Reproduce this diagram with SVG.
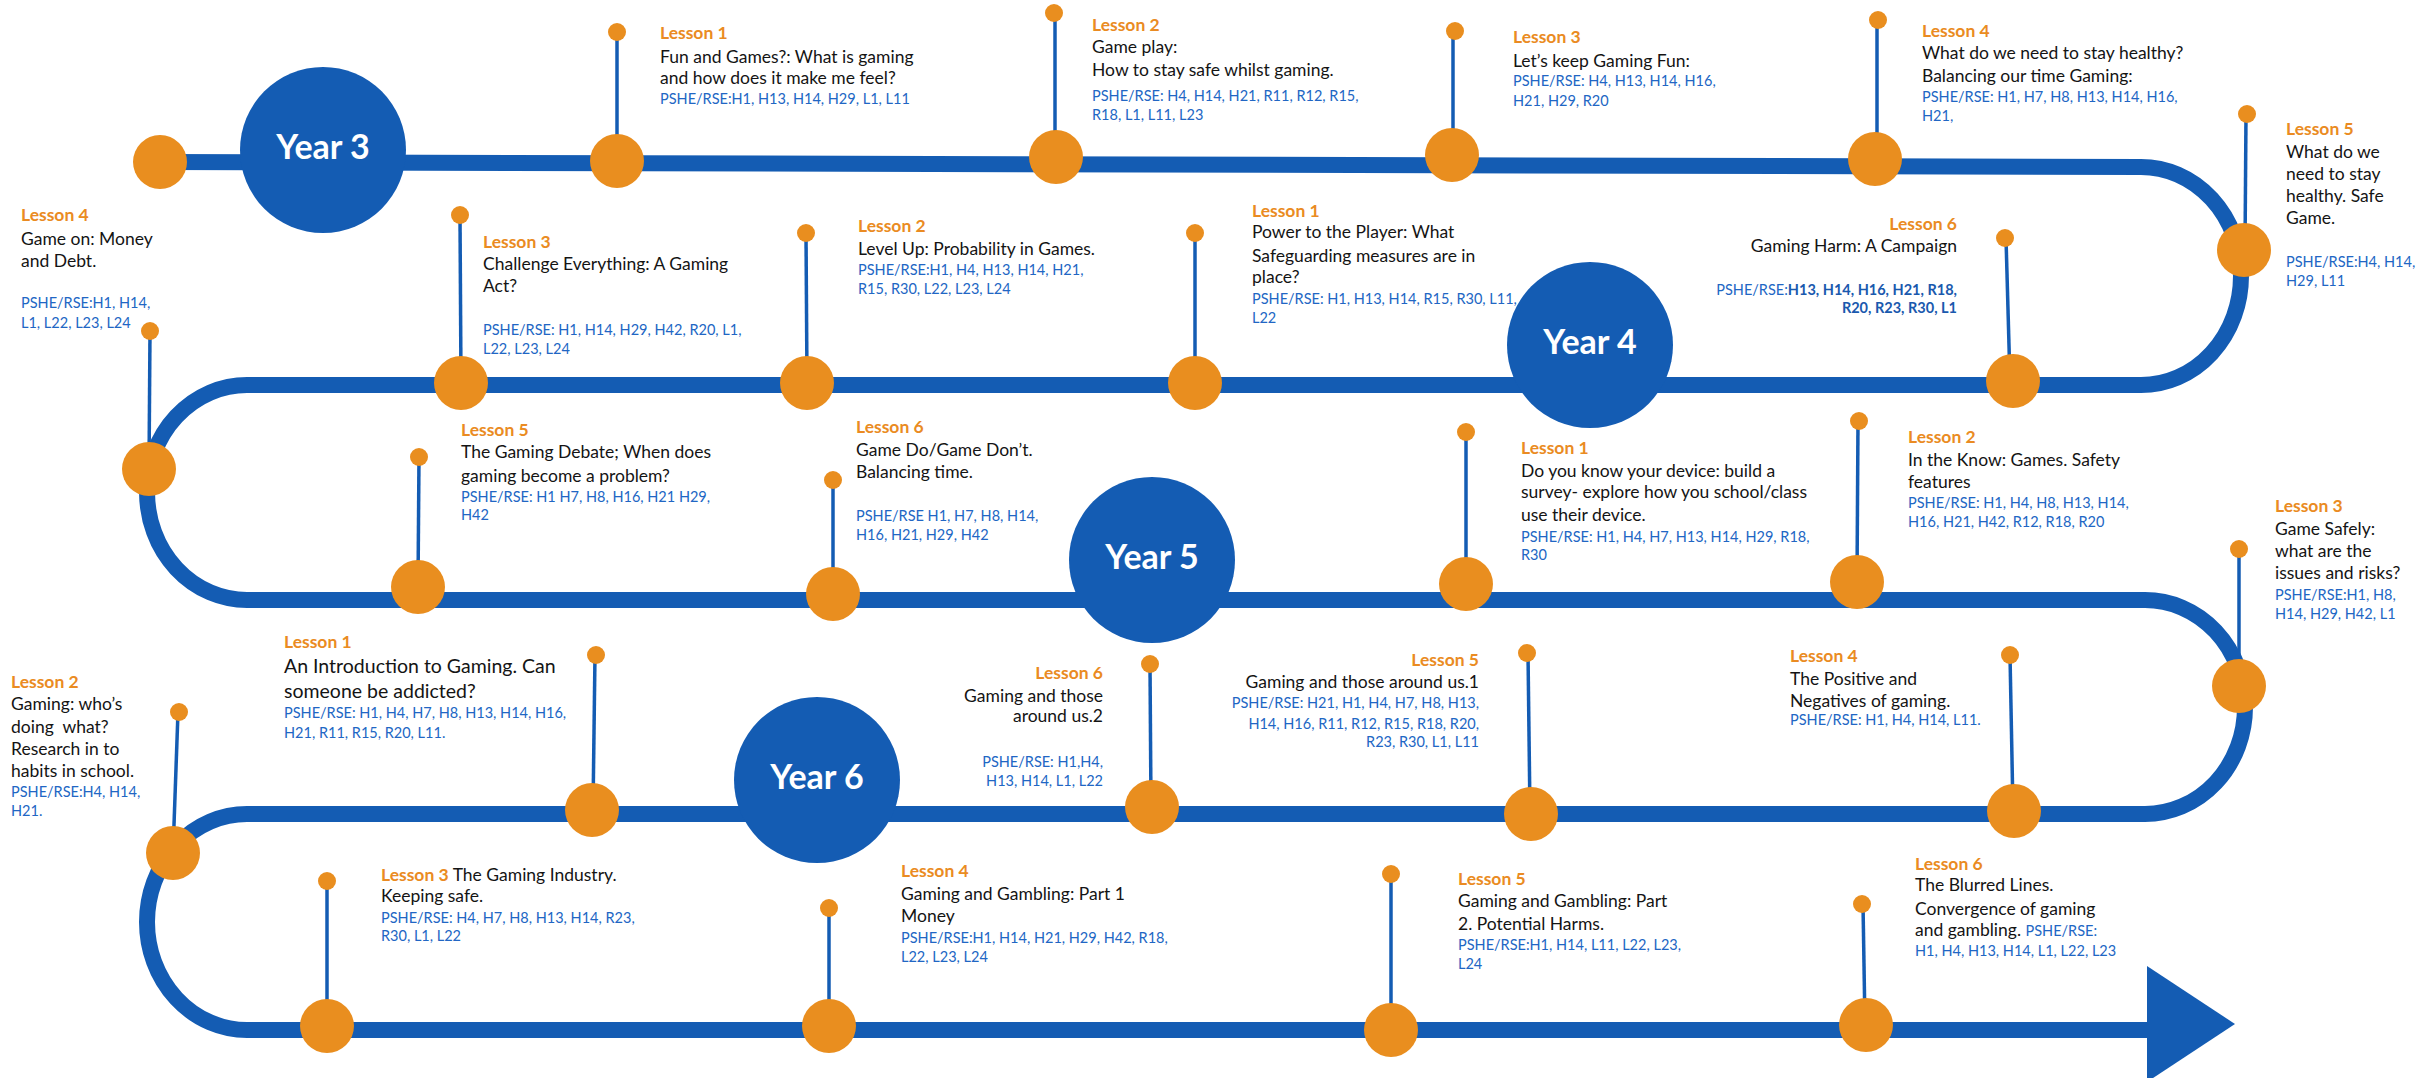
<svg xmlns="http://www.w3.org/2000/svg" width="2420" height="1078" viewBox="0 0 2420 1078">
<style>
text{font-family:Lato,"Liberation Sans",sans-serif;}
.les{font-size:17.5px;font-weight:bold;fill:#EA8B22;}
.bd{font-size:17.5px;fill:#141414;}
.bd2{font-size:19.5px;fill:#141414;}
.ps{font-size:14.5px;fill:#2166C4;}
.psb{font-weight:bold;fill:#1A59AE;}
.yr{font-size:34px;font-weight:bold;fill:#ffffff;text-anchor:middle;}
.trk{fill:none;stroke:#145CB3;stroke-width:16;}
.stem{stroke:#145CB3;stroke-width:3.5;}
.big{fill:#E98E1F;}
.dot{fill:#E98E1F;}
.yc{fill:#145CB3;}
.e{text-anchor:end;}
</style>
<rect width="2420" height="1078" fill="#ffffff"/>
<g id="connectors">
<path class="trk" d="M160 162 L2141 167 A100 109 0 0 1 2141 385 L247 385 A100 107.5 0 0 0 247 600 L2145 600 A100 107 0 0 1 2145 814 L247 814 A100 108 0 0 0 247 1030 L2150 1030"/>
<polygon points="2147,966 2235,1024 2147,1082" fill="#145CB3"/>
</g>
<g id="year3"><circle class="yc" cx="323" cy="150" r="83"/><text class="yr" x="323" y="159">Year 3</text></g>
<g id="year4"><circle class="yc" cx="1590" cy="345" r="83"/><text class="yr" x="1590" y="354">Year 4</text></g>
<g id="year5"><circle class="yc" cx="1152" cy="560" r="83"/><text class="yr" x="1152" y="569">Year 5</text></g>
<g id="year6"><circle class="yc" cx="817" cy="780" r="83"/><text class="yr" x="817" y="789">Year 6</text></g>
<g id="start"><circle class="big" cx="160" cy="162" r="27"/></g>

<g id="y3-l1">
<line class="stem" x1="617" y1="32" x2="617" y2="162"/>
<circle class="dot" cx="617" cy="32" r="9"/>
<circle class="big" cx="617" cy="161" r="27"/>
<text class="les" x="660" y="39">Lesson 1</text>
<text class="bd" x="660" y="63">Fun and Games?: What is gaming</text>
<text class="bd" x="660" y="84">and how does it make me feel?</text>
<text class="ps" x="660" y="104">PSHE/RSE:H1, H13, H14, H29, L1, L11</text>
</g>
<g id="y3-l2">
<line class="stem" x1="1055" y1="13" x2="1055" y2="157"/>
<circle class="dot" cx="1054" cy="13" r="9"/>
<circle class="big" cx="1056" cy="157" r="27"/>
<text class="les" x="1092" y="31">Lesson 2</text>
<text class="bd" x="1092" y="53">Game play:</text>
<text class="bd" x="1092" y="76">How to stay safe whilst gaming.</text>
<text class="ps" x="1092" y="101">PSHE/RSE: H4, H14, H21, R11, R12, R15,</text>
<text class="ps" x="1092" y="120">R18, L1, L11, L23</text>
</g>
<g id="y3-l3">
<line class="stem" x1="1453" y1="31" x2="1453" y2="155"/>
<circle class="dot" cx="1455" cy="31" r="9"/>
<circle class="big" cx="1452" cy="155" r="27"/>
<text class="les" x="1513" y="43">Lesson 3</text>
<text class="bd" x="1513" y="67">Let’s keep Gaming Fun:</text>
<text class="ps" x="1513" y="86">PSHE/RSE: H4, H13, H14, H16,</text>
<text class="ps" x="1513" y="106">H21, H29, R20</text>
</g>
<g id="y3-l4">
<line class="stem" x1="1877" y1="20" x2="1877" y2="159"/>
<circle class="dot" cx="1878" cy="20" r="9"/>
<circle class="big" cx="1875" cy="159" r="27"/>
<text class="les" x="1922" y="37">Lesson 4</text>
<text class="bd" x="1922" y="59">What do we need to stay healthy?</text>
<text class="bd" x="1922" y="82">Balancing our time Gaming:</text>
<text class="ps" x="1922" y="102">PSHE/RSE: H1, H7, H8, H13, H14, H16,</text>
<text class="ps" x="1922" y="121">H21,</text>
</g>
<g id="y3-l5">
<line class="stem" x1="2246" y1="114" x2="2245" y2="250"/>
<circle class="dot" cx="2247" cy="114" r="9"/>
<circle class="big" cx="2244" cy="250" r="27"/>
<text class="les" x="2286" y="135">Lesson 5</text>
<text class="bd" x="2286" y="158">What do we</text>
<text class="bd" x="2286" y="180">need to stay</text>
<text class="bd" x="2286" y="202">healthy. Safe</text>
<text class="bd" x="2286" y="224">Game.</text>
<text class="ps" x="2286" y="267">PSHE/RSE:H4, H14,</text>
<text class="ps" x="2286" y="286">H29, L11</text>
</g>
<g id="y3-l6">
<line class="stem" x1="2006" y1="238" x2="2010" y2="381"/>
<circle class="dot" cx="2005" cy="238" r="9"/>
<circle class="big" cx="2013" cy="381" r="27"/>
<text class="les e" x="1957" y="230">Lesson 6</text>
<text class="bd e" x="1957" y="252">Gaming Harm: A Campaign</text>
<text class="ps e" x="1957" y="295">PSHE/RSE:<tspan class="psb">H13, H14, H16, H21, R18,</tspan></text>
<text class="ps psb e" x="1957" y="313">R20, R23, R30, L1</text>
</g>

<g id="y4-l1">
<line class="stem" x1="1195" y1="233" x2="1195" y2="383"/>
<circle class="dot" cx="1195" cy="233" r="9"/>
<circle class="big" cx="1195" cy="383" r="27"/>
<text class="les" x="1252" y="217">Lesson 1</text>
<text class="bd" x="1252" y="238">Power to the Player: What</text>
<text class="bd" x="1252" y="262">Safeguarding measures are in</text>
<text class="bd" x="1252" y="283">place?</text>
<text class="ps" x="1252" y="304">PSHE/RSE: H1, H13, H14, R15, R30, L11,</text>
<text class="ps" x="1252" y="323">L22</text>
</g>
<g id="y4-l2">
<line class="stem" x1="806" y1="233" x2="807" y2="383"/>
<circle class="dot" cx="806" cy="233" r="9"/>
<circle class="big" cx="807" cy="383" r="27"/>
<text class="les" x="858" y="232">Lesson 2</text>
<text class="bd" x="858" y="255">Level Up: Probability in Games.</text>
<text class="ps" x="858" y="275">PSHE/RSE:H1, H4, H13, H14, H21,</text>
<text class="ps" x="858" y="294">R15, R30, L22, L23, L24</text>
</g>
<g id="y4-l3">
<line class="stem" x1="460" y1="215" x2="461" y2="383"/>
<circle class="dot" cx="460" cy="215" r="9"/>
<circle class="big" cx="461" cy="383" r="27"/>
<text class="les" x="483" y="248">Lesson 3</text>
<text class="bd" x="483" y="270">Challenge Everything: A Gaming</text>
<text class="bd" x="483" y="292">Act?</text>
<text class="ps" x="483" y="335">PSHE/RSE: H1, H14, H29, H42, R20, L1,</text>
<text class="ps" x="483" y="354">L22, L23, L24</text>
</g>
<g id="y4-l4">
<line class="stem" x1="150" y1="331" x2="149" y2="469"/>
<circle class="dot" cx="150" cy="331" r="9"/>
<circle class="big" cx="149" cy="469" r="27"/>
<text class="les" x="21" y="221">Lesson 4</text>
<text class="bd" x="21" y="245">Game on: Money</text>
<text class="bd" x="21" y="267">and Debt.</text>
<text class="ps" x="21" y="308">PSHE/RSE:H1, H14,</text>
<text class="ps" x="21" y="328">L1, L22, L23, L24</text>
</g>
<g id="y4-l5">
<line class="stem" x1="419" y1="457" x2="418" y2="587"/>
<circle class="dot" cx="419" cy="457" r="9"/>
<circle class="big" cx="418" cy="587" r="27"/>
<text class="les" x="461" y="436">Lesson 5</text>
<text class="bd" x="461" y="458">The Gaming Debate; When does</text>
<text class="bd" x="461" y="482">gaming become a problem?</text>
<text class="ps" x="461" y="502">PSHE/RSE: H1 H7, H8, H16, H21 H29,</text>
<text class="ps" x="461" y="520">H42</text>
</g>
<g id="y4-l6">
<line class="stem" x1="833" y1="480" x2="833" y2="594"/>
<circle class="dot" cx="833" cy="480" r="9"/>
<circle class="big" cx="833" cy="594" r="27"/>
<text class="les" x="856" y="433">Lesson 6</text>
<text class="bd" x="856" y="456">Game Do/Game Don’t.</text>
<text class="bd" x="856" y="478">Balancing time.</text>
<text class="ps" x="856" y="521">PSHE/RSE H1, H7, H8, H14,</text>
<text class="ps" x="856" y="540">H16, H21, H29, H42</text>
</g>

<g id="y5-l1">
<line class="stem" x1="1466" y1="432" x2="1466" y2="584"/>
<circle class="dot" cx="1466" cy="432" r="9"/>
<circle class="big" cx="1466" cy="584" r="27"/>
<text class="les" x="1521" y="454">Lesson 1</text>
<text class="bd" x="1521" y="477">Do you know your device: build a</text>
<text class="bd" x="1521" y="498">survey- explore how you school/class</text>
<text class="bd" x="1521" y="521">use their device.</text>
<text class="ps" x="1521" y="542">PSHE/RSE: H1, H4, H7, H13, H14, H29, R18,</text>
<text class="ps" x="1521" y="560">R30</text>
</g>
<g id="y5-l2">
<line class="stem" x1="1858" y1="421" x2="1857" y2="582"/>
<circle class="dot" cx="1859" cy="421" r="9"/>
<circle class="big" cx="1857" cy="582" r="27"/>
<text class="les" x="1908" y="443">Lesson 2</text>
<text class="bd" x="1908" y="466">In the Know: Games. Safety</text>
<text class="bd" x="1908" y="488">features</text>
<text class="ps" x="1908" y="508">PSHE/RSE: H1, H4, H8, H13, H14,</text>
<text class="ps" x="1908" y="527">H16, H21, H42, R12, R18, R20</text>
</g>
<g id="y5-l3">
<line class="stem" x1="2239" y1="549" x2="2239" y2="686"/>
<circle class="dot" cx="2239" cy="549" r="9"/>
<circle class="big" cx="2239" cy="686" r="27"/>
<text class="les" x="2275" y="512">Lesson 3</text>
<text class="bd" x="2275" y="535">Game Safely:</text>
<text class="bd" x="2275" y="557">what are the</text>
<text class="bd" x="2275" y="579">issues and risks?</text>
<text class="ps" x="2275" y="600">PSHE/RSE:H1, H8,</text>
<text class="ps" x="2275" y="619">H14, H29, H42, L1</text>
</g>
<g id="y5-l4">
<line class="stem" x1="2010" y1="655" x2="2013" y2="811"/>
<circle class="dot" cx="2010" cy="655" r="9"/>
<circle class="big" cx="2014" cy="811" r="27"/>
<text class="les" x="1790" y="662">Lesson 4</text>
<text class="bd" x="1790" y="685">The Positive and</text>
<text class="bd" x="1790" y="707">Negatives of gaming.</text>
<text class="ps" x="1790" y="725">PSHE/RSE: H1, H4, H14, L11.</text>
</g>
<g id="y5-l5">
<line class="stem" x1="1528" y1="653" x2="1530" y2="814"/>
<circle class="dot" cx="1527" cy="653" r="9"/>
<circle class="big" cx="1531" cy="814" r="27"/>
<text class="les e" x="1479" y="666">Lesson 5</text>
<text class="bd e" x="1479" y="688">Gaming and those around us.1</text>
<text class="ps e" x="1479" y="708">PSHE/RSE: H21, H1, H4, H7, H8, H13,</text>
<text class="ps e" x="1479" y="729">H14, H16, R11, R12, R15, R18, R20,</text>
<text class="ps e" x="1479" y="747">R23, R30, L1, L11</text>
</g>
<g id="y5-l6">
<line class="stem" x1="1150" y1="664" x2="1151" y2="807"/>
<circle class="dot" cx="1150" cy="664" r="9"/>
<circle class="big" cx="1152" cy="807" r="27"/>
<text class="les e" x="1103" y="679">Lesson 6</text>
<text class="bd e" x="1103" y="702">Gaming and those</text>
<text class="bd e" x="1103" y="722">around us.2</text>
<text class="ps e" x="1103" y="767">PSHE/RSE: H1,H4,</text>
<text class="ps e" x="1103" y="786">H13, H14, L1, L22</text>
</g>

<g id="y6-l1">
<line class="stem" x1="595" y1="655" x2="593" y2="810"/>
<circle class="dot" cx="596" cy="655" r="9"/>
<circle class="big" cx="592" cy="810" r="27"/>
<text class="les" x="284" y="648">Lesson 1</text>
<text class="bd2" x="284" y="673">An Introduction to Gaming. Can</text>
<text class="bd2" x="284" y="698">someone be addicted?</text>
<text class="ps" x="284" y="718">PSHE/RSE: H1, H4, H7, H8, H13, H14, H16,</text>
<text class="ps" x="284" y="738">H21, R11, R15, R20, L11.</text>
</g>
<g id="y6-l2">
<line class="stem" x1="178" y1="712" x2="173" y2="853"/>
<circle class="dot" cx="179" cy="712" r="9"/>
<circle class="big" cx="173" cy="853" r="27"/>
<text class="les" x="11" y="688">Lesson 2</text>
<text class="bd" x="11" y="710">Gaming: who’s</text>
<text class="bd" x="11" y="733">doing&#160; what?</text>
<text class="bd" x="11" y="755">Research in to</text>
<text class="bd" x="11" y="777">habits in school.</text>
<text class="ps" x="11" y="797">PSHE/RSE:H4, H14,</text>
<text class="ps" x="11" y="816">H21.</text>
</g>
<g id="y6-l3">
<line class="stem" x1="327" y1="881" x2="327" y2="1026"/>
<circle class="dot" cx="327" cy="881" r="9"/>
<circle class="big" cx="327" cy="1026" r="27"/>
<text class="bd" x="381" y="881"><tspan class="les">Lesson 3</tspan> The Gaming Industry.</text>
<text class="bd" x="381" y="902">Keeping safe.</text>
<text class="ps" x="381" y="923">PSHE/RSE: H4, H7, H8, H13, H14, R23,</text>
<text class="ps" x="381" y="941">R30, L1, L22</text>
</g>
<g id="y6-l4">
<line class="stem" x1="829" y1="908" x2="829" y2="1026"/>
<circle class="dot" cx="829" cy="908" r="9"/>
<circle class="big" cx="829" cy="1026" r="27"/>
<text class="les" x="901" y="877">Lesson 4</text>
<text class="bd" x="901" y="900">Gaming and Gambling: Part 1</text>
<text class="bd" x="901" y="922">Money</text>
<text class="ps" x="901" y="943">PSHE/RSE:H1, H14, H21, H29, H42, R18,</text>
<text class="ps" x="901" y="962">L22, L23, L24</text>
</g>
<g id="y6-l5">
<line class="stem" x1="1391" y1="874" x2="1391" y2="1030"/>
<circle class="dot" cx="1391" cy="874" r="9"/>
<circle class="big" cx="1391" cy="1030" r="27"/>
<text class="les" x="1458" y="885">Lesson 5</text>
<text class="bd" x="1458" y="907">Gaming and Gambling: Part</text>
<text class="bd" x="1458" y="930">2. Potential Harms.</text>
<text class="ps" x="1458" y="950">PSHE/RSE:H1, H14, L11, L22, L23,</text>
<text class="ps" x="1458" y="969">L24</text>
</g>
<g id="y6-l6">
<line class="stem" x1="1863" y1="904" x2="1865" y2="1025"/>
<circle class="dot" cx="1862" cy="904" r="9"/>
<circle class="big" cx="1866" cy="1025" r="27"/>
<text class="les" x="1915" y="870">Lesson 6</text>
<text class="bd" x="1915" y="891">The Blurred Lines.</text>
<text class="bd" x="1915" y="915">Convergence of gaming</text>
<text class="bd" x="1915" y="936">and gambling. <tspan class="ps">PSHE/RSE:</tspan></text>
<text class="ps" x="1915" y="956">H1, H4, H13, H14, L1, L22, L23</text>
</g>
</svg>
